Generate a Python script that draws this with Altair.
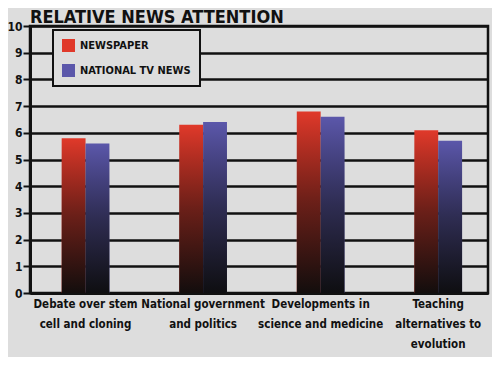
import altair as alt
import pandas as pd

categories = [
    "Debate over stem\ncell and cloning",
    "National government\nand politics",
    "Developments in\nscience and medicine",
    "Teaching\nalternatives to\nevolution",
]
series = ["NEWSPAPER", "NATIONAL TV NEWS"]
newspaper = [5.8, 6.3, 6.8, 6.1]
tv_news = [5.6, 6.4, 6.6, 5.7]
colors = ["#e0392a", "#5b57aa"]

rows = []
for c, a, b in zip(categories, newspaper, tv_news):
    rows.append({"topic": c, "source": series[0], "value": a})
    rows.append({"topic": c, "source": series[1], "value": b})
df = pd.DataFrame(rows)

FONT = "DejaVu Sans Condensed, sans-serif"
BG = "#dddddd"

x_enc = alt.X(
    "topic:N",
    sort=categories,
    scale=alt.Scale(paddingInner=0.594, paddingOuter=0.245, align=0.55),
    axis=alt.Axis(
        title=None,
        labelAngle=0,
        labelExpr="split(datum.label, '\\n')",
        labelFont=FONT,
        labelFontSize=11.5,
        labelFontWeight="bold",
        labelColor="#111111",
        labelLineHeight=20,
        labelPadding=5,
        ticks=False,
        domainColor="#111111",
        domainWidth=3,
        grid=False,
        labelLimit=200,
    ),
)
xoff = alt.XOffset("source:N", sort=series, scale=alt.Scale(paddingInner=0))
y_enc = alt.Y(
    "value:Q",
    scale=alt.Scale(domain=[0, 10], nice=False),
    axis=alt.Axis(
        title=None,
        values=list(range(0, 11)),
        labelFont=FONT,
        labelFontSize=12,
        labelFontWeight="bold",
        labelColor="#111111",
        labelPadding=1,
        tickSize=7,
        tickWidth=2,
        tickColor="#111111",
        domainColor="#111111",
        domainWidth=3,
        grid=True,
        gridColor="#111111",
        gridWidth=2.5,
        gridOpacity=1,
    ),
)

base = alt.Chart(df)

bars = base.mark_bar().encode(
    x=x_enc,
    xOffset=xoff,
    y=y_enc,
    color=alt.Color(
        "source:N",
        sort=series,
        scale=alt.Scale(domain=series, range=colors),
        legend=alt.Legend(
            title=None,
            orient="none",
            legendX=23,
            legendY=4,
            symbolType="square",
            symbolSize=169,
            symbolStrokeWidth=0,
            labelFont=FONT,
            labelFontSize=11,
            labelFontWeight="bold",
            labelColor="#111111",
            labelLimit=300,
            rowPadding=12,
            padding=9,
            labelOffset=5,
            fillColor=BG,
            strokeColor="#111111",
        ),
    ),
)

shade = base.mark_bar(
    color=alt.Gradient(
        gradient="linear",
        x1=0, x2=0, y1=0, y2=1,
        stops=[
            alt.GradientStop(color="rgba(0,0,0,0)", offset=0),
            alt.GradientStop(color="rgba(10,10,10,0.55)", offset=0.5),
            alt.GradientStop(color="rgba(12,12,12,0.97)", offset=1),
        ],
    )
).encode(x=x_enc, xOffset=xoff, y=y_enc)

chart = (
    alt.layer(bars, shade)
    .properties(
        width=458,
        height=267,
        background=BG,
        padding={"left": 22, "top": 18, "right": 4, "bottom": 64},
        autosize=alt.AutoSizeParams(type="none"),
        title=alt.TitleParams(
            "RELATIVE NEWS ATTENTION",
            anchor="start",
            frame="group",
            font=FONT,
            fontSize=18,
            fontWeight="bold",
            color="#111111",
            offset=0,
            dy=7,
        ),
    )
    .configure_view(stroke="#111111", strokeWidth=2.5, fill=BG)
    .configure_legend(strokeWidth=2, cornerRadius=0)
)

chart.save("out.html", embed_options={"renderer": "svg", "actions": False})
